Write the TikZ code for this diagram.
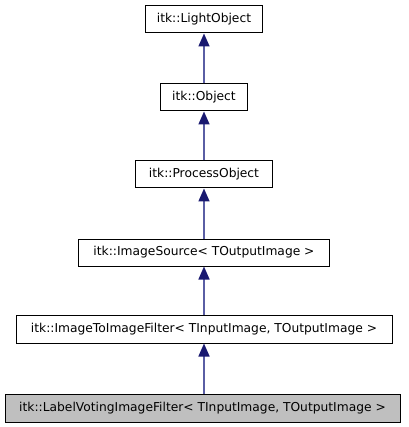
\documentclass[tikz,border=0pt]{standalone}
\usepackage{fontspec}
\setmainfont{DejaVu Sans}
\usetikzlibrary{arrows.meta}

\definecolor{edgeblue}{HTML}{191970}
\definecolor{edgeline}{HTML}{5A5EA4}
\definecolor{curgray}{HTML}{BFBFBF}

\begin{document}
\begin{tikzpicture}[x=0.75pt,y=-0.75pt,font=\fontsize{9.2pt}{11pt}\selectfont,
  classbox/.style={draw=black,line width=0.75pt,fill=white,inner sep=0pt,minimum height=20.25pt},
  curbox/.style={classbox,fill=curgray},
  inherit/.style={draw=edgeline,line width=1.2pt,-{Triangle[length=9.75pt,width=8.25pt,fill=edgeblue,color=edgeblue]}}]
  \useasboundingbox (0,0) rectangle (408,427);
  % --- Klassen ---
  \node[classbox,minimum width=87.75pt] (light) at (204,19.5) {itk::LightObject};
  \node[classbox,minimum width=65.25pt] (obj) at (204,97.5) {itk::Object};
  \node[classbox,minimum width=102.75pt] (proc) at (204,174.5) {itk::ProcessObject};
  \node[classbox,minimum width=188.25pt] (src) at (204,252.5) {itk::ImageSource< TOutputImage >};
  \node[classbox,minimum width=282pt,minimum height=21pt] (i2i) at (204,329) {itk::ImageToImageFilter< TInputImage, TOutputImage >};
  \node[curbox,minimum width=296.25pt,minimum height=21pt] (vote) at (202.5,408) {itk::LabelVotingImageFilter< TInputImage, TOutputImage >};
  % --- Vererbung ---
  \draw[inherit] (obj.north) -- (light.south);
  \draw[inherit] (proc.north) -- (obj.south);
  \draw[inherit] (src.north) -- (proc.south);
  \draw[inherit] (i2i.north) -- (src.south);
  \draw[inherit] (vote.north -| i2i) -- (i2i.south);
\end{tikzpicture}
\end{document}
